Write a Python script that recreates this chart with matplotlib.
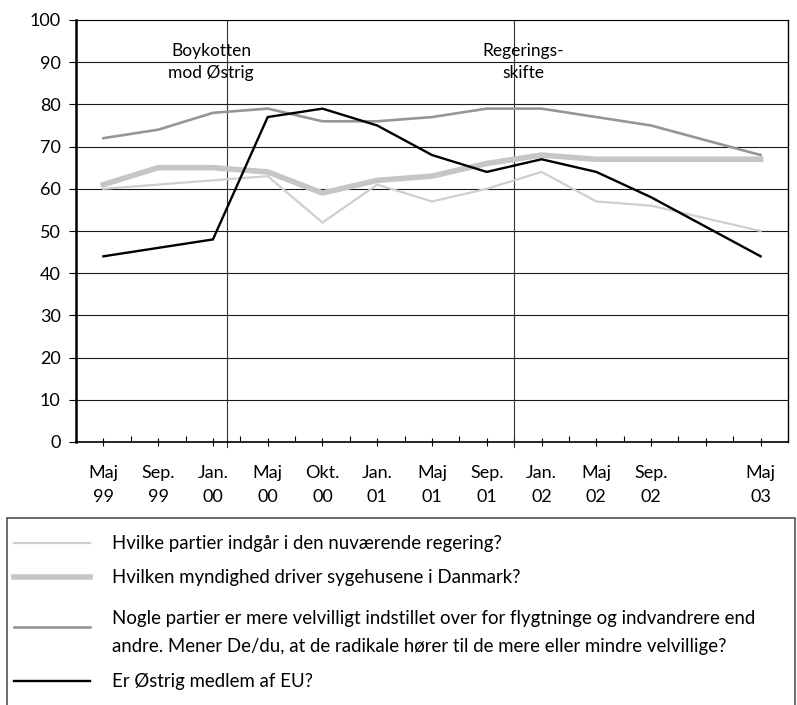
import numpy as np
import matplotlib
matplotlib.use("Agg")
import matplotlib.pyplot as plt
from matplotlib.lines import Line2D
from matplotlib.patches import Rectangle

plt.rcParams['font.family'] = ['Lato', 'DejaVu Sans']

categories = ["Maj\n99", "Sep.\n99", "Jan.\n00", "Maj\n00", "Okt.\n00", "Jan.\n01",
              "Maj\n01", "Sep.\n01", "Jan.\n02", "Maj\n02", "Sep.\n02", "", "Maj\n03"]

regering = [60, 61, 62, 63, 52, 61, 57, 60, 64, 57, 56, 50]
sygehuse = [61, 65, 65, 64, 59, 62, 63, 66, 68, 67, 67, 67]
radikale = [72, 74, 78, 79, 76, 76, 77, 79, 79, 77, 75, 68]
oestrig = [44, 46, 48, 77, 79, 75, 68, 64, 67, 64, 58, 44]

labels = ["Hvilke partier indgår i den nuværende regering?",
          "Hvilken myndighed driver sygehusene i Danmark?",
          "Nogle partier er mere velvilligt indstillet over for flygtninge og indvandrere end\n"
          "andre. Mener De/du, at de radikale hører til de mere eller mindre velvillige?",
          "Er Østrig medlem af EU?"]

events = [2.25, 7.5]
event_labels = ["Boykotten\nmod Østrig", "Regerings-\nskifte"]
event_label_x = [1.97, 7.66]

W, H = 797, 705
fig = plt.figure(figsize=(W / 100, H / 100), dpi=100)
ax = fig.add_axes([76 / W, 1 - 442 / H, (788 - 76) / W, (442 - 20) / H])

x = [i for i, c in enumerate(categories) if c]
series = [regering, sygehuse, radikale, oestrig]
colors = ['#cfcfcf', '#c6c6c6', '#969696', '#000000']
widths = [1.6, 4.0, 1.9, 1.7]
zord = [3, 3, 4, 5]

ax.set_xlim(-0.5, 12.5)
ax.set_ylim(0, 100)

for yv in range(10, 101, 10):
    ax.axhline(yv, color='#1a1a1a', lw=0.8, zorder=1)

for ev in events:
    ax.axvline(ev, ymin=-0.012, ymax=1.0, color='#333333', lw=0.8, zorder=2, clip_on=False)

for s, c, w, z in zip(series, colors, widths, zord):
    ax.plot(x, s, color=c, lw=w, zorder=z, solid_joinstyle='miter')

for ex, et in zip(event_label_x, event_labels):
    ax.text(ex, 90, et, ha='center', va='center', fontsize=12.5, linespacing=1.45, zorder=6)

ax.set_yticks(range(0, 101, 10))
ax.tick_params(axis='y', direction='out', length=5, width=0.8, pad=6, labelsize=13)
ax.set_xticks(range(len(categories)))
ax.set_xticklabels(categories, linespacing=1.65)
ax.set_xticks(np.arange(0.5, 12, 1.0), minor=True)
ax.tick_params(axis='x', which='major', direction='inout', length=6, width=0.8,
               pad=13.5, labelsize=13)
ax.tick_params(axis='x', which='minor', direction='in', length=4.5, width=0.8)

ax.spines['left'].set_linewidth(1.8)
ax.spines['bottom'].set_linewidth(1.2)
ax.spines['top'].set_linewidth(0.8)
ax.spines['right'].set_linewidth(1.0)
for sp in ax.spines.values():
    sp.set_color('black')

# legend box
fig.patches.append(Rectangle((7 / W, -0.05), (795 - 7) / W, 0.05 + 1 - 518 / H,
                             transform=fig.transFigure, fill=False,
                             edgecolor='#444444', lw=1.1))
rows_handle_y = [543, 577, 627, 681]
rows_text_y = [543, 577, 632.5, 681]
for hy, ty, lab, c, w in zip(rows_handle_y, rows_text_y, labels, colors, widths):
    fig.lines.append(Line2D([14 / W, 90 / W], [1 - hy / H, 1 - hy / H],
                            transform=fig.transFigure, color=c, lw=w))
    fig.text(112 / W, 1 - ty / H, lab, ha='left', va='center', fontsize=13.4,
             linespacing=1.75)

fig.savefig("out.png", dpi=100)
